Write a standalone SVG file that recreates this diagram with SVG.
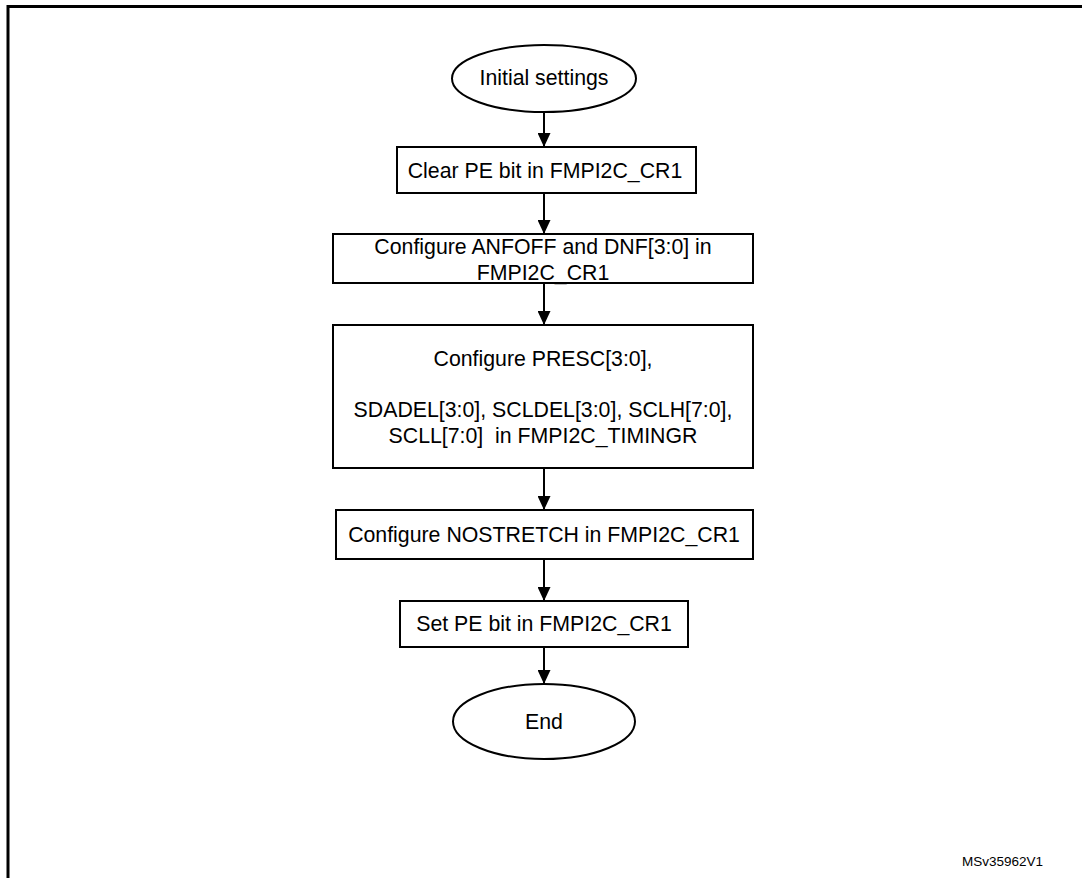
<svg xmlns="http://www.w3.org/2000/svg" width="1082" height="878" viewBox="0 0 1082 878">
<style>
.shape{fill:#fff;stroke:#000;stroke-width:2}
.t{font-family:"Liberation Sans",Arial,sans-serif;font-size:21.3px;fill:#000;text-anchor:middle}
.c{stroke:#000;stroke-width:2;fill:none;marker-end:url(#ah)}
.frame{stroke:#000;stroke-width:3;fill:none}
.id{font-family:"Liberation Sans",Arial,sans-serif;font-size:13.5px;fill:#000}
</style>
<defs>
<marker id="ah" markerWidth="14" markerHeight="13" refX="14" refY="6.5" orient="auto" markerUnits="userSpaceOnUse">
<path d="M0,0 L14,6.5 L0,13 Z" fill="#000"/>
</marker>
</defs>
<rect width="1082" height="878" fill="#fff"/>
<path class="frame" d="M8,878 L8,6.5 L1082,6.5"/>
<g id="connectors">
<line class="c" x1="544" y1="112" x2="544" y2="147"/>
<line class="c" x1="544" y1="193" x2="544" y2="234"/>
<line class="c" x1="544" y1="283" x2="544" y2="325"/>
<line class="c" x1="544" y1="468" x2="544" y2="510"/>
<line class="c" x1="544" y1="559" x2="544" y2="601"/>
<line class="c" x1="544" y1="647" x2="544" y2="684"/>
</g>
<g id="start">
<ellipse class="shape" cx="544" cy="78.5" rx="92" ry="33.5"/>
<text class="t" x="544" y="85">Initial settings</text>
</g>
<g id="clear-pe">
<rect class="shape" x="397" y="147" width="299" height="46"/>
<text class="t" x="545" y="178">Clear PE bit in FMPI2C_CR1</text>
</g>
<g id="config-anf">
<rect class="shape" x="333" y="234" width="420" height="49"/>
<text class="t" x="543" y="254">Configure ANFOFF and DNF[3:0] in</text>
<text class="t" x="543" y="280">FMPI2C_CR1</text>
</g>
<g id="config-timing">
<rect class="shape" x="333" y="325" width="420" height="143"/>
<text class="t" x="543" y="366">Configure PRESC[3:0],</text>
<text class="t" x="543" y="417">SDADEL[3:0], SCLDEL[3:0], SCLH[7:0],</text>
<text class="t" x="543" y="443" xml:space="preserve">SCLL[7:0]  in FMPI2C_TIMINGR</text>
</g>
<g id="config-nostretch">
<rect class="shape" x="336" y="510" width="417" height="49"/>
<text class="t" x="544" y="542">Configure NOSTRETCH in FMPI2C_CR1</text>
</g>
<g id="set-pe">
<rect class="shape" x="400" y="601" width="288" height="46"/>
<text class="t" x="544" y="631">Set PE bit in FMPI2C_CR1</text>
</g>
<g id="end">
<ellipse class="shape" cx="544" cy="721.5" rx="91" ry="37.5"/>
<text class="t" x="544" y="729">End</text>
</g>
<text class="id" x="962" y="866">MSv35962V1</text>
</svg>
